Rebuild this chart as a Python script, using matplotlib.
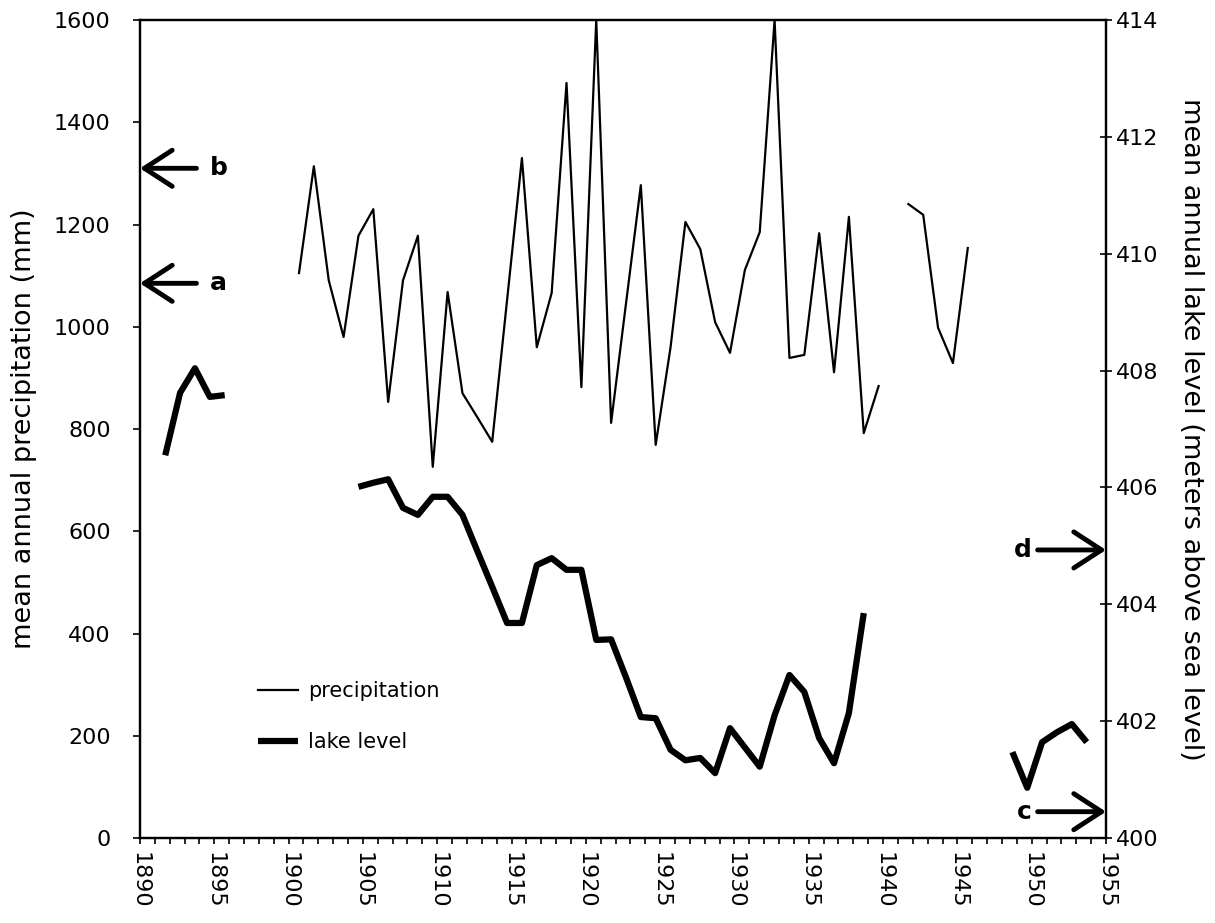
import numpy as np
import matplotlib.pyplot as plt
from matplotlib.ticker import MultipleLocator

# precipitation (mm), gap in 1940
precip_years = list(range(1900, 1940)) + list(range(1941, 1946))
precip = [1105, 1314, 1091, 980, 1178, 1230, 853, 1091, 1178, 726,
          1068, 870, 823, 775, 1052, 1330, 960, 1066, 1477, 882,
          1600, 812, 1045, 1277, 769, 960, 1205, 1152, 1009, 949,
          1111, 1185, 1600, 939, 945, 1183, 911, 1215, 792, 884,
          1240, 1219, 998, 929, 1154]

# lake level (m above sea level), three separate runs
lake_years_1 = [1891, 1892, 1893, 1894, 1895]
lake_1 = [406.55, 407.62, 408.04, 407.55, 407.58]
lake_years_2 = list(range(1904, 1939))
lake_2 = [406.01, 406.08, 406.14, 405.65, 405.53, 405.84, 405.84, 405.53,
          404.91, 404.30, 403.68, 403.68, 404.67, 404.79, 404.59, 404.59,
          403.39, 403.40, 402.75, 402.07, 402.05, 401.51, 401.33, 401.37,
          401.11, 401.88, 401.55, 401.22, 402.10, 402.79, 402.50, 401.71,
          401.28, 402.14, 403.85]
lake_years_3 = [1948, 1949, 1950, 1951, 1952, 1953]
lake_3 = [401.47, 400.86, 401.64, 401.81, 401.95, 401.64]

# annotation arrows: (label, value)
left_marks = [('b', 1310), ('a', 1085)]
right_marks = [('d', 404.93), ('c', 400.45)]

x_shift = 0.7  # points sit inside the year interval

plt.rcParams['font.family'] = 'DejaVu Sans'
fig = plt.figure(figsize=(12.15, 9.23), dpi=100)
ax = fig.add_axes([0.1152, 0.0921, 0.7951, 0.8862])
ax2 = ax.twinx()

def gapped(years, vals):
    # insert NaN where a year is missing so the line breaks
    xs, ys = [], []
    for i, (yr, v) in enumerate(zip(years, vals)):
        if i > 0 and yr - years[i - 1] > 1:
            xs.append(np.nan)
            ys.append(np.nan)
        xs.append(yr + x_shift)
        ys.append(v)
    return xs, ys

px, py = gapped(precip_years, precip)
l1, = ax.plot(px, py, color='black', lw=1.6, label='precipitation')

for yrs, vals in [(lake_years_1, lake_1), (lake_years_2, lake_2), (lake_years_3, lake_3)]:
    l2, = ax2.plot(np.array(yrs) + x_shift, vals, color='black', lw=4.5,
                   solid_capstyle='butt', label='lake level')

ax.set_xlim(1890, 1955)
ax.set_ylim(0, 1600)
ax2.set_ylim(400, 414)
ax.set_yticks(np.arange(0, 1601, 200))
ax2.set_yticks(np.arange(400, 415, 2))
ax.set_xticks(np.arange(1890, 1956, 5))
ax.xaxis.set_minor_locator(MultipleLocator(1))
ax.set_xticklabels([str(y) for y in range(1890, 1956, 5)], rotation=270)

ax.tick_params(axis='x', which='both', direction='out', length=4, width=1.2,
               labelsize=16, pad=6)
ax.tick_params(axis='y', direction='out', length=5, width=1.2, labelsize=16, pad=16)
ax2.tick_params(axis='y', direction='inout', length=8, width=1.2, labelsize=16)

for a in (ax, ax2):
    for s in a.spines.values():
        s.set_linewidth(1.6)

ax.set_ylabel('mean annual precipitation (mm)', fontsize=19.5, labelpad=12)
ax2.set_ylabel('mean annual lake level (meters above sea level)', fontsize=19.5,
               rotation=270, labelpad=32)

arrow_kw = dict(arrowstyle='->, head_length=1.0, head_width=0.65', lw=3.5,
                color='black', mutation_scale=20, shrinkA=0, shrinkB=0)
for lab, v in left_marks:
    ax.annotate('', xy=(1890, v), xytext=(1893.8, v), arrowprops=arrow_kw)
    ax.text(1894.7, v, lab, fontsize=18, fontweight='bold', va='center', ha='left')
for lab, v in right_marks:
    ax2.annotate('', xy=(1955, v), xytext=(1950.4, v), arrowprops=arrow_kw)
    ax2.text(1950.0, v, lab, fontsize=18, fontweight='bold', va='center', ha='right')

ax.legend(handles=[l1, l2], loc='upper left', bbox_to_anchor=(0.103, 0.215),
          frameon=False, fontsize=15, handlelength=1.9, handletextpad=0.5,
          labelspacing=1.5)

fig.savefig('out.png', dpi=100)
